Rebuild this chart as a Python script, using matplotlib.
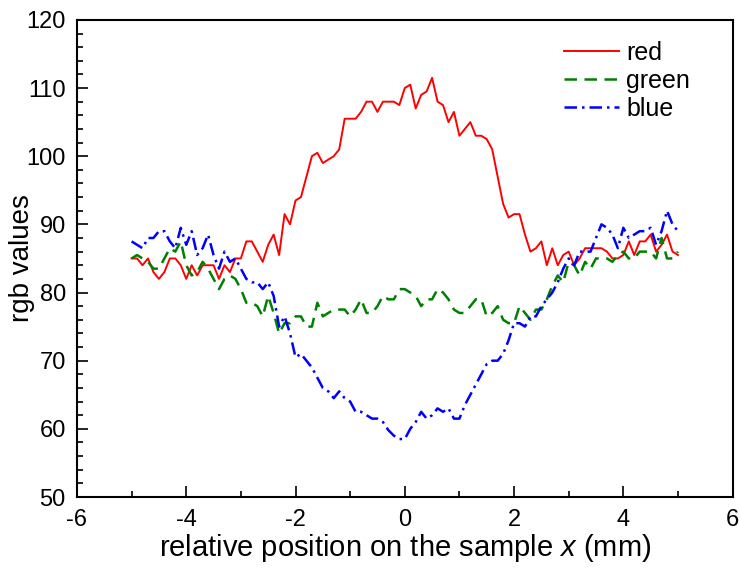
import numpy as np
import matplotlib
matplotlib.use('Agg')
import matplotlib.pyplot as plt
from matplotlib.ticker import MultipleLocator

plt.rcParams['font.family'] = ['Liberation Sans', 'DejaVu Sans']
plt.rcParams['mathtext.fontset'] = 'custom'
plt.rcParams['mathtext.rm'] = 'Liberation Sans'
plt.rcParams['mathtext.it'] = 'Liberation Sans:italic'
plt.rcParams['axes.unicode_minus'] = False

# position along the sample (mm)
x = np.round(np.arange(-5.0, 5.01, 0.1), 2)

red = [85, 85, 84, 85, 83, 82, 83, 85, 85, 84,
       82, 84, 82.5, 84, 84, 84, 82, 84, 83, 85,
       85, 87.5, 87.5, 86, 84.5, 87, 88.5, 85.5, 91.5, 90,
       93.5, 94, 97, 100, 100.5, 99, 99.5, 100, 101, 105.5,
       105.5, 105.5, 106.5, 108, 108, 106.5, 108, 108, 108, 107.5,
       110, 110.5, 107, 109, 109.5, 111.5, 108, 107.5, 105, 106.5,
       103, 104, 105, 103, 103, 102.5, 101, 97, 93, 91,
       91.5, 91.5, 88.5, 86, 86.5, 87.5, 84, 86.5, 84, 85.5,
       86, 84, 85, 86.5, 86.5, 86.5, 86.5, 86, 85, 85,
       85.5, 87.5, 85.5, 87.5, 87.5, 88.5, 86, 87, 88.5, 86,
       85.5]

green = [85, 85.5, 85, 84.5, 83.5, 83.5, 85, 86.5, 86, 87.5,
         84, 82.5, 83, 84.5, 83.5, 82, 80.5, 82, 82.5, 82,
         80.5, 78.5, 78.5, 78, 76.5, 79.5, 77, 74, 75.5, 75.5,
         76.5, 76.5, 75, 75, 78.5, 76.5, 77, 77.5, 77.5, 77.5,
         76.5, 77.5, 79, 77, 77, 78, 79.5, 79, 79, 80.5,
         80.5, 80, 79.5, 78, 79, 79, 80.5, 80, 79, 77.5,
         77, 77, 78, 79, 79, 76.5, 77, 78, 76, 75.5,
         75.5, 78, 77, 76, 77.5, 77.5, 79, 81, 82.5, 81.5,
         84.5, 84, 82.5, 84.5, 83.5, 85, 85, 85, 84.5, 85.5,
         86, 85, 85, 86, 86, 86, 85, 88, 85, 85,
         86]

blue = [87.5, 87, 86.5, 88, 88, 89, 89, 87.5, 86.5, 89.5,
        87, 89, 85.5, 86.5, 88.5, 85.5, 83.5, 86, 84.5, 85,
        83.5, 82, 81.5, 81.5, 80.5, 81.5, 79.5, 75, 76.5, 74,
        70.5, 71, 70, 69, 67.5, 66, 65.5, 64.5, 65.5, 64.5,
        64, 62.5, 62.5, 62, 61.5, 61.5, 61, 59.8, 59, 58.5,
        58.5, 60, 61, 62.5, 61.5, 62, 63, 62.5, 63, 61.5,
        61.5, 63.5, 65, 66.5, 68, 69.5, 70, 70, 71, 73,
        75.5, 75.5, 75, 76.5, 76.5, 78, 79, 80, 81.5, 83.5,
        85, 84, 86, 86, 86, 88, 90, 89.5, 88.5, 86.5,
        89.5, 88, 88.5, 89, 89, 89.5, 87, 89, 92, 90,
        89]

fig = plt.figure(figsize=(7.4, 5.68), dpi=100)
ax = fig.add_axes([0.104, 0.125, 0.886, 0.840])

ax.plot(x, red, color='#ff0000', lw=1.4, label='red')
ax.plot(x, green, color='#008000', lw=1.8, dashes=(5, 3), label='green')
ax.plot(x, blue, color='#0000ff', lw=1.8, dashes=(5, 2, 1, 2), label='blue')

ax.set_xlim(-6, 6)
ax.set_ylim(50, 120)
ax.xaxis.set_major_locator(MultipleLocator(2))
ax.xaxis.set_minor_locator(MultipleLocator(1))
ax.yaxis.set_major_locator(MultipleLocator(10))
ax.yaxis.set_minor_locator(MultipleLocator(2))
ax.tick_params(which='both', direction='in', top=False, right=False, labelsize=17, width=1.2)
ax.tick_params(axis='x', pad=9)
ax.tick_params(axis='y', pad=8)
ax.tick_params(which='major', length=8)
ax.tick_params(which='minor', length=4)
for s in ax.spines.values():
    s.set_linewidth(1.5)

ax.set_xlabel('relative position on the sample $x$ (mm)', fontsize=21, labelpad=0)
ax.set_ylabel('rgb values', fontsize=20, labelpad=-6)

ax.legend(loc='upper right', frameon=False, fontsize=18, handlelength=2.2,
          handletextpad=0.3, labelspacing=0.15, borderpad=0.2,
          bbox_to_anchor=(0.962, 0.992))

fig.savefig('out.png', dpi=100)
